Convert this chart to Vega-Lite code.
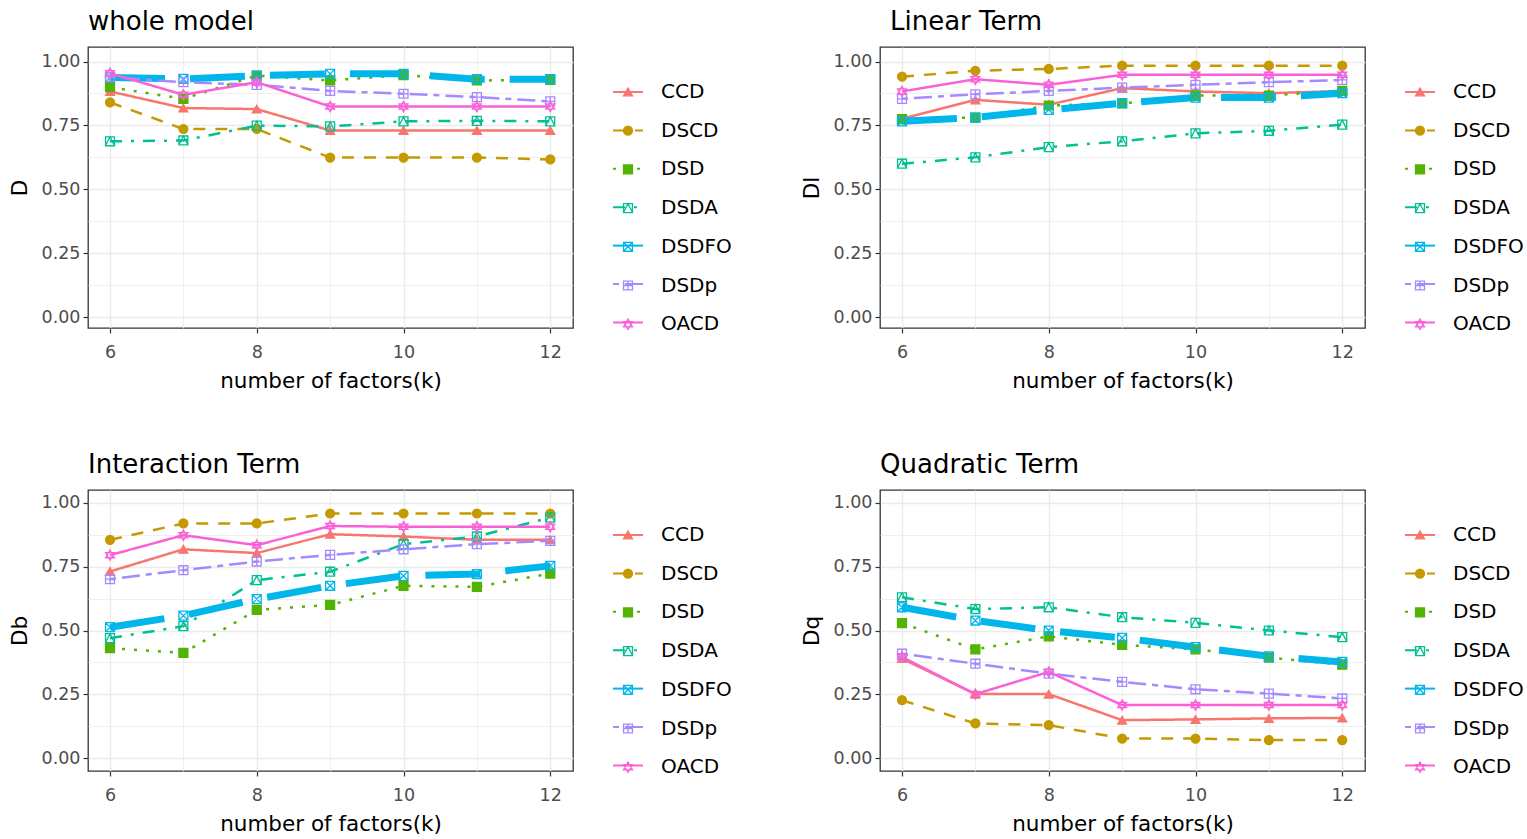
{
  "$schema": "https://vega.github.io/schema/vega-lite/v6.json",
  "background": "white",
  "padding": {"left": 8, "top": 8, "right": 0, "bottom": 0},
  "datasets": {
    "d": [
      {"p":"D","s":"CCD","k":6,"v":0.883},{"p":"D","s":"CCD","k":7,"v":0.818},{"p":"D","s":"CCD","k":8,"v":0.814},{"p":"D","s":"CCD","k":9,"v":0.730},{"p":"D","s":"CCD","k":10,"v":0.730},{"p":"D","s":"CCD","k":11,"v":0.730},{"p":"D","s":"CCD","k":12,"v":0.730},
      {"p":"D","s":"DSCD","k":6,"v":0.840},{"p":"D","s":"DSCD","k":7,"v":0.736},{"p":"D","s":"DSCD","k":8,"v":0.736},{"p":"D","s":"DSCD","k":9,"v":0.624},{"p":"D","s":"DSCD","k":10,"v":0.624},{"p":"D","s":"DSCD","k":11,"v":0.624},{"p":"D","s":"DSCD","k":12,"v":0.617},
      {"p":"D","s":"DSD","k":6,"v":0.900},{"p":"D","s":"DSD","k":7,"v":0.854},{"p":"D","s":"DSD","k":8,"v":0.945},{"p":"D","s":"DSD","k":9,"v":0.926},{"p":"D","s":"DSD","k":10,"v":0.947},{"p":"D","s":"DSD","k":11,"v":0.926},{"p":"D","s":"DSD","k":12,"v":0.928},
      {"p":"D","s":"DSDA","k":6,"v":0.688},{"p":"D","s":"DSDA","k":7,"v":0.691},{"p":"D","s":"DSDA","k":8,"v":0.749},{"p":"D","s":"DSDA","k":9,"v":0.746},{"p":"D","s":"DSDA","k":10,"v":0.766},{"p":"D","s":"DSDA","k":11,"v":0.768},{"p":"D","s":"DSDA","k":12,"v":0.766},
      {"p":"D","s":"DSDFO","k":6,"v":0.938},{"p":"D","s":"DSDFO","k":7,"v":0.932},{"p":"D","s":"DSDFO","k":8,"v":0.945},{"p":"D","s":"DSDFO","k":9,"v":0.952},{"p":"D","s":"DSDFO","k":10,"v":0.952},{"p":"D","s":"DSDFO","k":11,"v":0.931},{"p":"D","s":"DSDFO","k":12,"v":0.931},
      {"p":"D","s":"DSDp","k":6,"v":0.940},{"p":"D","s":"DSDp","k":7,"v":0.919},{"p":"D","s":"DSDp","k":8,"v":0.909},{"p":"D","s":"DSDp","k":9,"v":0.885},{"p":"D","s":"DSDp","k":10,"v":0.874},{"p":"D","s":"DSDp","k":11,"v":0.861},{"p":"D","s":"DSDp","k":12,"v":0.844},
      {"p":"D","s":"OACD","k":6,"v":0.954},{"p":"D","s":"OACD","k":7,"v":0.870},{"p":"D","s":"OACD","k":8,"v":0.919},{"p":"D","s":"OACD","k":9,"v":0.824},{"p":"D","s":"OACD","k":10,"v":0.824},{"p":"D","s":"OACD","k":11,"v":0.824},{"p":"D","s":"OACD","k":12,"v":0.824},

      {"p":"Dl","s":"CCD","k":6,"v":0.776},{"p":"Dl","s":"CCD","k":7,"v":0.850},{"p":"Dl","s":"CCD","k":8,"v":0.831},{"p":"Dl","s":"CCD","k":9,"v":0.896},{"p":"Dl","s":"CCD","k":10,"v":0.883},{"p":"Dl","s":"CCD","k":11,"v":0.876},{"p":"Dl","s":"CCD","k":12,"v":0.885},
      {"p":"Dl","s":"DSCD","k":6,"v":0.941},{"p":"Dl","s":"DSCD","k":7,"v":0.964},{"p":"Dl","s":"DSCD","k":8,"v":0.971},{"p":"Dl","s":"DSCD","k":9,"v":0.984},{"p":"Dl","s":"DSCD","k":10,"v":0.984},{"p":"Dl","s":"DSCD","k":11,"v":0.984},{"p":"Dl","s":"DSCD","k":12,"v":0.984},
      {"p":"Dl","s":"DSD","k":6,"v":0.775},{"p":"Dl","s":"DSD","k":7,"v":0.781},{"p":"Dl","s":"DSD","k":8,"v":0.828},{"p":"Dl","s":"DSD","k":9,"v":0.836},{"p":"Dl","s":"DSD","k":10,"v":0.867},{"p":"Dl","s":"DSD","k":11,"v":0.867},{"p":"Dl","s":"DSD","k":12,"v":0.885},
      {"p":"Dl","s":"DSDA","k":6,"v":0.600},{"p":"Dl","s":"DSDA","k":7,"v":0.625},{"p":"Dl","s":"DSDA","k":8,"v":0.665},{"p":"Dl","s":"DSDA","k":9,"v":0.688},{"p":"Dl","s":"DSDA","k":10,"v":0.719},{"p":"Dl","s":"DSDA","k":11,"v":0.729},{"p":"Dl","s":"DSDA","k":12,"v":0.753},
      {"p":"Dl","s":"DSDFO","k":6,"v":0.766},{"p":"Dl","s":"DSDFO","k":7,"v":0.781},{"p":"Dl","s":"DSDFO","k":8,"v":0.811},{"p":"Dl","s":"DSDFO","k":9,"v":0.837},{"p":"Dl","s":"DSDFO","k":10,"v":0.859},{"p":"Dl","s":"DSDFO","k":11,"v":0.859},{"p":"Dl","s":"DSDFO","k":12,"v":0.876},
      {"p":"Dl","s":"DSDp","k":6,"v":0.854},{"p":"Dl","s":"DSDp","k":7,"v":0.872},{"p":"Dl","s":"DSDp","k":8,"v":0.885},{"p":"Dl","s":"DSDp","k":9,"v":0.898},{"p":"Dl","s":"DSDp","k":10,"v":0.909},{"p":"Dl","s":"DSDp","k":11,"v":0.919},{"p":"Dl","s":"DSDp","k":12,"v":0.928},
      {"p":"Dl","s":"OACD","k":6,"v":0.883},{"p":"Dl","s":"OACD","k":7,"v":0.931},{"p":"Dl","s":"OACD","k":8,"v":0.909},{"p":"Dl","s":"OACD","k":9,"v":0.948},{"p":"Dl","s":"OACD","k":10,"v":0.948},{"p":"Dl","s":"OACD","k":11,"v":0.948},{"p":"Dl","s":"OACD","k":12,"v":0.948},

      {"p":"Db","s":"CCD","k":6,"v":0.731},{"p":"Db","s":"CCD","k":7,"v":0.818},{"p":"Db","s":"CCD","k":8,"v":0.803},{"p":"Db","s":"CCD","k":9,"v":0.877},{"p":"Db","s":"CCD","k":10,"v":0.868},{"p":"Db","s":"CCD","k":11,"v":0.855},{"p":"Db","s":"CCD","k":12,"v":0.855},
      {"p":"Db","s":"DSCD","k":6,"v":0.855},{"p":"Db","s":"DSCD","k":7,"v":0.919},{"p":"Db","s":"DSCD","k":8,"v":0.919},{"p":"Db","s":"DSCD","k":9,"v":0.958},{"p":"Db","s":"DSCD","k":10,"v":0.958},{"p":"Db","s":"DSCD","k":11,"v":0.958},{"p":"Db","s":"DSCD","k":12,"v":0.958},
      {"p":"Db","s":"DSD","k":6,"v":0.431},{"p":"Db","s":"DSD","k":7,"v":0.412},{"p":"Db","s":"DSD","k":8,"v":0.581},{"p":"Db","s":"DSD","k":9,"v":0.600},{"p":"Db","s":"DSD","k":10,"v":0.675},{"p":"Db","s":"DSD","k":11,"v":0.671},{"p":"Db","s":"DSD","k":12,"v":0.723},
      {"p":"Db","s":"DSDA","k":6,"v":0.470},{"p":"Db","s":"DSDA","k":7,"v":0.517},{"p":"Db","s":"DSDA","k":8,"v":0.697},{"p":"Db","s":"DSDA","k":9,"v":0.730},{"p":"Db","s":"DSDA","k":10,"v":0.838},{"p":"Db","s":"DSDA","k":11,"v":0.868},{"p":"Db","s":"DSDA","k":12,"v":0.942},
      {"p":"Db","s":"DSDFO","k":6,"v":0.513},{"p":"Db","s":"DSDFO","k":7,"v":0.558},{"p":"Db","s":"DSDFO","k":8,"v":0.623},{"p":"Db","s":"DSDFO","k":9,"v":0.675},{"p":"Db","s":"DSDFO","k":10,"v":0.714},{"p":"Db","s":"DSDFO","k":11,"v":0.721},{"p":"Db","s":"DSDFO","k":12,"v":0.753},
      {"p":"Db","s":"DSDp","k":6,"v":0.701},{"p":"Db","s":"DSDp","k":7,"v":0.736},{"p":"Db","s":"DSDp","k":8,"v":0.770},{"p":"Db","s":"DSDp","k":9,"v":0.796},{"p":"Db","s":"DSDp","k":10,"v":0.818},{"p":"Db","s":"DSDp","k":11,"v":0.838},{"p":"Db","s":"DSDp","k":12,"v":0.851},
      {"p":"Db","s":"OACD","k":6,"v":0.795},{"p":"Db","s":"OACD","k":7,"v":0.873},{"p":"Db","s":"OACD","k":8,"v":0.834},{"p":"Db","s":"OACD","k":9,"v":0.909},{"p":"Db","s":"OACD","k":10,"v":0.906},{"p":"Db","s":"OACD","k":11,"v":0.906},{"p":"Db","s":"OACD","k":12,"v":0.906},

      {"p":"Dq","s":"CCD","k":6,"v":0.390},{"p":"Dq","s":"CCD","k":7,"v":0.251},{"p":"Dq","s":"CCD","k":8,"v":0.251},{"p":"Dq","s":"CCD","k":9,"v":0.149},{"p":"Dq","s":"CCD","k":10,"v":0.152},{"p":"Dq","s":"CCD","k":11,"v":0.156},{"p":"Dq","s":"CCD","k":12,"v":0.158},
      {"p":"Dq","s":"DSCD","k":6,"v":0.227},{"p":"Dq","s":"DSCD","k":7,"v":0.136},{"p":"Dq","s":"DSCD","k":8,"v":0.130},{"p":"Dq","s":"DSCD","k":9,"v":0.077},{"p":"Dq","s":"DSCD","k":10,"v":0.077},{"p":"Dq","s":"DSCD","k":11,"v":0.071},{"p":"Dq","s":"DSCD","k":12,"v":0.071},
      {"p":"Dq","s":"DSD","k":6,"v":0.529},{"p":"Dq","s":"DSD","k":7,"v":0.426},{"p":"Dq","s":"DSD","k":8,"v":0.477},{"p":"Dq","s":"DSD","k":9,"v":0.444},{"p":"Dq","s":"DSD","k":10,"v":0.426},{"p":"Dq","s":"DSD","k":11,"v":0.394},{"p":"Dq","s":"DSD","k":12,"v":0.366},
      {"p":"Dq","s":"DSDA","k":6,"v":0.630},{"p":"Dq","s":"DSDA","k":7,"v":0.584},{"p":"Dq","s":"DSDA","k":8,"v":0.591},{"p":"Dq","s":"DSDA","k":9,"v":0.552},{"p":"Dq","s":"DSDA","k":10,"v":0.530},{"p":"Dq","s":"DSDA","k":11,"v":0.500},{"p":"Dq","s":"DSDA","k":12,"v":0.474},
      {"p":"Dq","s":"DSDFO","k":6,"v":0.591},{"p":"Dq","s":"DSDFO","k":7,"v":0.539},{"p":"Dq","s":"DSDFO","k":8,"v":0.500},{"p":"Dq","s":"DSDFO","k":9,"v":0.471},{"p":"Dq","s":"DSDFO","k":10,"v":0.435},{"p":"Dq","s":"DSDFO","k":11,"v":0.399},{"p":"Dq","s":"DSDFO","k":12,"v":0.377},
      {"p":"Dq","s":"DSDp","k":6,"v":0.409},{"p":"Dq","s":"DSDp","k":7,"v":0.370},{"p":"Dq","s":"DSDp","k":8,"v":0.331},{"p":"Dq","s":"DSDp","k":9,"v":0.299},{"p":"Dq","s":"DSDp","k":10,"v":0.270},{"p":"Dq","s":"DSDp","k":11,"v":0.253},{"p":"Dq","s":"DSDp","k":12,"v":0.234},
      {"p":"Dq","s":"OACD","k":6,"v":0.396},{"p":"Dq","s":"OACD","k":7,"v":0.251},{"p":"Dq","s":"OACD","k":8,"v":0.338},{"p":"Dq","s":"OACD","k":9,"v":0.208},{"p":"Dq","s":"OACD","k":10,"v":0.208},{"p":"Dq","s":"OACD","k":11,"v":0.208},{"p":"Dq","s":"OACD","k":12,"v":0.208}
    ]
  },
  "columns": 2,
  "bounds": "flush",
  "spacing": {"row": 162, "column": 307},
  "resolve": {"scale": {"stroke": "independent", "strokeDash": "independent"}, "legend": {"stroke": "independent", "fill": "independent", "shape": "independent", "strokeDash": "independent"}},
  "concat": [
    {
      "width": 485, "height": 281,
      "title": {"text": "whole model"},
      "data": {"name": "d"},
      "transform": [{"filter": "datum.p === 'D'"}],
      "encoding": {
        "x": {"field": "k", "type": "quantitative", "title": "number of factors(k)", "scale": {"domain": [5.7, 12.31], "nice": false, "zero": false},
              "axis": {"values": [6,7,8,9,10,11,12], "labelExpr": "datum.value % 2 === 0 ? datum.label : ''", "gridWidth": {"condition": {"test": "datum.value % 2 === 0", "value": 1.4}, "value": 0.8}, "tickOpacity": {"condition": {"test": "datum.value % 2 === 0", "value": 1}, "value": 0}}},
        "y": {"field": "v", "type": "quantitative", "title": "D", "scale": {"domain": [-0.043, 1.057], "nice": false, "zero": false},
              "axis": {"values": [0,0.125,0.25,0.375,0.5,0.625,0.75,0.875,1], "labelExpr": "datum.value % 0.25 === 0 ? format(datum.value, '.2f') : ''", "gridWidth": {"condition": {"test": "datum.value % 0.25 === 0", "value": 1.4}, "value": 0.8}, "tickOpacity": {"condition": {"test": "datum.value % 0.25 === 0", "value": 1}, "value": 0}}}
      },
      "resolve": {"scale": {"stroke": "independent", "strokeDash": "independent"}, "legend": {"stroke": "independent", "strokeDash": "independent", "fill": "independent", "shape": "independent"}},
      "layer": [
        {"mark": {"type": "line", "clip": true},
         "encoding": {
           "stroke": {"field": "s", "type": "nominal", "title": null, "scale": {"range": ["#F8766D","#C49A00","#53B400","#00C094","#00B6EB","#A58AFF","#FB61D7"]}, "legend": {"orient": "none", "legendX": 524, "legendY": 29, "symbolType": "stroke", "symbolSize": 900, "symbolStrokeWidth": 2, "rowPadding": 12.4, "labelColor": "transparent", "labelExpr": "''", "padding": 0}},
           "strokeDash": {"field": "s", "type": "nominal", "title": null, "scale": {"range": [[1,0],[12,10],[3,9],[12,9,3,9],[55,25],[6,6,18,6],[1,0]]}, "legend": {"orient": "none", "legendX": 524, "legendY": 29, "symbolType": "stroke", "symbolSize": 900, "symbolStrokeWidth": 2, "rowPadding": 12.4, "labelColor": "transparent", "labelExpr": "''", "padding": 0}},
           "strokeWidth": {"condition": {"test": "datum.s === 'DSDFO'", "value": 7}, "value": 2.5}
         }},
        {"mark": {"type": "point", "size": 80, "strokeWidth": 1.3, "opacity": 1},
         "encoding": {
           "stroke": {"field": "s", "type": "nominal", "title": null, "scale": {"domain": ["CCD","DSCD","DSD","DSDA","DSDFO","DSDp","OACD"], "range": ["#F8766D","#C49A00","#53B400","#00C094","#00B6EB","#A58AFF","#FB61D7"]}, "legend": {"orient": "none", "legendX": 530, "legendY": 35}},
           "fill": {"field": "s", "type": "nominal", "title": null, "scale": {"domain": ["CCD","DSCD","DSD","DSDA","DSDFO","DSDp","OACD"], "range": ["#F8766D","#C49A00","#53B400","transparent","transparent","transparent","transparent"]}, "legend": {"orient": "none", "legendX": 530, "legendY": 35}},
           "shape": {"field": "s", "type": "nominal", "title": null, "scale": {"domain": ["CCD","DSCD","DSD","DSDA","DSDFO","DSDp","OACD"], "range": ["triangle-up","circle","square","M-1,-1H1V1H-1Z M-1,1L0,-1L1,1","M-1,-1H1V1H-1Z M-1,-1L1,1 M-1,1L1,-1","M-1,-1H1V1H-1Z M0,-1V1 M-1,0H1","M0,-1.15L1,0.58H-1Z M0,1.15L1,-0.58H-1Z"]}, "legend": {"orient": "none", "legendX": 530, "legendY": 35}}
         }}
      ]
    },
    {
      "width": 485, "height": 281,
      "title": {"text": "Linear Term", "dx": 10},
      "data": {"name": "d"},
      "transform": [{"filter": "datum.p === 'Dl'"}],
      "encoding": {
        "x": {"field": "k", "type": "quantitative", "title": "number of factors(k)", "scale": {"domain": [5.7, 12.31], "nice": false, "zero": false},
              "axis": {"values": [6,7,8,9,10,11,12], "labelExpr": "datum.value % 2 === 0 ? datum.label : ''", "gridWidth": {"condition": {"test": "datum.value % 2 === 0", "value": 1.4}, "value": 0.8}, "tickOpacity": {"condition": {"test": "datum.value % 2 === 0", "value": 1}, "value": 0}}},
        "y": {"field": "v", "type": "quantitative", "title": "Dl", "scale": {"domain": [-0.043, 1.057], "nice": false, "zero": false},
              "axis": {"values": [0,0.125,0.25,0.375,0.5,0.625,0.75,0.875,1], "labelExpr": "datum.value % 0.25 === 0 ? format(datum.value, '.2f') : ''", "gridWidth": {"condition": {"test": "datum.value % 0.25 === 0", "value": 1.4}, "value": 0.8}, "tickOpacity": {"condition": {"test": "datum.value % 0.25 === 0", "value": 1}, "value": 0}}}
      },
      "resolve": {"scale": {"stroke": "independent", "strokeDash": "independent"}, "legend": {"stroke": "independent", "strokeDash": "independent", "fill": "independent", "shape": "independent"}},
      "layer": [
        {"mark": {"type": "line", "clip": true},
         "encoding": {
           "stroke": {"field": "s", "type": "nominal", "title": null, "scale": {"range": ["#F8766D","#C49A00","#53B400","#00C094","#00B6EB","#A58AFF","#FB61D7"]}, "legend": {"orient": "none", "legendX": 524, "legendY": 29, "symbolType": "stroke", "symbolSize": 900, "symbolStrokeWidth": 2, "rowPadding": 12.4, "labelColor": "transparent", "labelExpr": "''", "padding": 0}},
           "strokeDash": {"field": "s", "type": "nominal", "title": null, "scale": {"range": [[1,0],[12,10],[3,9],[12,9,3,9],[55,25],[6,6,18,6],[1,0]]}, "legend": {"orient": "none", "legendX": 524, "legendY": 29, "symbolType": "stroke", "symbolSize": 900, "symbolStrokeWidth": 2, "rowPadding": 12.4, "labelColor": "transparent", "labelExpr": "''", "padding": 0}},
           "strokeWidth": {"condition": {"test": "datum.s === 'DSDFO'", "value": 7}, "value": 2.5}
         }},
        {"mark": {"type": "point", "size": 80, "strokeWidth": 1.3, "opacity": 1},
         "encoding": {
           "stroke": {"field": "s", "type": "nominal", "title": null, "scale": {"domain": ["CCD","DSCD","DSD","DSDA","DSDFO","DSDp","OACD"], "range": ["#F8766D","#C49A00","#53B400","#00C094","#00B6EB","#A58AFF","#FB61D7"]}, "legend": {"orient": "none", "legendX": 530, "legendY": 35}},
           "fill": {"field": "s", "type": "nominal", "title": null, "scale": {"domain": ["CCD","DSCD","DSD","DSDA","DSDFO","DSDp","OACD"], "range": ["#F8766D","#C49A00","#53B400","transparent","transparent","transparent","transparent"]}, "legend": {"orient": "none", "legendX": 530, "legendY": 35}},
           "shape": {"field": "s", "type": "nominal", "title": null, "scale": {"domain": ["CCD","DSCD","DSD","DSDA","DSDFO","DSDp","OACD"], "range": ["triangle-up","circle","square","M-1,-1H1V1H-1Z M-1,1L0,-1L1,1","M-1,-1H1V1H-1Z M-1,-1L1,1 M-1,1L1,-1","M-1,-1H1V1H-1Z M0,-1V1 M-1,0H1","M0,-1.15L1,0.58H-1Z M0,1.15L1,-0.58H-1Z"]}, "legend": {"orient": "none", "legendX": 530, "legendY": 35}}
         }}
      ]
    },
    {
      "width": 485, "height": 281,
      "title": {"text": "Interaction Term"},
      "data": {"name": "d"},
      "transform": [{"filter": "datum.p === 'Db'"}],
      "encoding": {
        "x": {"field": "k", "type": "quantitative", "title": "number of factors(k)", "scale": {"domain": [5.7, 12.31], "nice": false, "zero": false},
              "axis": {"values": [6,7,8,9,10,11,12], "labelExpr": "datum.value % 2 === 0 ? datum.label : ''", "gridWidth": {"condition": {"test": "datum.value % 2 === 0", "value": 1.4}, "value": 0.8}, "tickOpacity": {"condition": {"test": "datum.value % 2 === 0", "value": 1}, "value": 0}}},
        "y": {"field": "v", "type": "quantitative", "title": "Db", "scale": {"domain": [-0.05, 1.05], "nice": false, "zero": false},
              "axis": {"values": [0,0.125,0.25,0.375,0.5,0.625,0.75,0.875,1], "labelExpr": "datum.value % 0.25 === 0 ? format(datum.value, '.2f') : ''", "gridWidth": {"condition": {"test": "datum.value % 0.25 === 0", "value": 1.4}, "value": 0.8}, "tickOpacity": {"condition": {"test": "datum.value % 0.25 === 0", "value": 1}, "value": 0}}}
      },
      "resolve": {"scale": {"stroke": "independent", "strokeDash": "independent"}, "legend": {"stroke": "independent", "strokeDash": "independent", "fill": "independent", "shape": "independent"}},
      "layer": [
        {"mark": {"type": "line", "clip": true},
         "encoding": {
           "stroke": {"field": "s", "type": "nominal", "title": null, "scale": {"range": ["#F8766D","#C49A00","#53B400","#00C094","#00B6EB","#A58AFF","#FB61D7"]}, "legend": {"orient": "none", "legendX": 524, "legendY": 29, "symbolType": "stroke", "symbolSize": 900, "symbolStrokeWidth": 2, "rowPadding": 12.4, "labelColor": "transparent", "labelExpr": "''", "padding": 0}},
           "strokeDash": {"field": "s", "type": "nominal", "title": null, "scale": {"range": [[1,0],[12,10],[3,9],[12,9,3,9],[55,25],[6,6,18,6],[1,0]]}, "legend": {"orient": "none", "legendX": 524, "legendY": 29, "symbolType": "stroke", "symbolSize": 900, "symbolStrokeWidth": 2, "rowPadding": 12.4, "labelColor": "transparent", "labelExpr": "''", "padding": 0}},
           "strokeWidth": {"condition": {"test": "datum.s === 'DSDFO'", "value": 7}, "value": 2.5}
         }},
        {"mark": {"type": "point", "size": 80, "strokeWidth": 1.3, "opacity": 1},
         "encoding": {
           "stroke": {"field": "s", "type": "nominal", "title": null, "scale": {"domain": ["CCD","DSCD","DSD","DSDA","DSDFO","DSDp","OACD"], "range": ["#F8766D","#C49A00","#53B400","#00C094","#00B6EB","#A58AFF","#FB61D7"]}, "legend": {"orient": "none", "legendX": 530, "legendY": 35}},
           "fill": {"field": "s", "type": "nominal", "title": null, "scale": {"domain": ["CCD","DSCD","DSD","DSDA","DSDFO","DSDp","OACD"], "range": ["#F8766D","#C49A00","#53B400","transparent","transparent","transparent","transparent"]}, "legend": {"orient": "none", "legendX": 530, "legendY": 35}},
           "shape": {"field": "s", "type": "nominal", "title": null, "scale": {"domain": ["CCD","DSCD","DSD","DSDA","DSDFO","DSDp","OACD"], "range": ["triangle-up","circle","square","M-1,-1H1V1H-1Z M-1,1L0,-1L1,1","M-1,-1H1V1H-1Z M-1,-1L1,1 M-1,1L1,-1","M-1,-1H1V1H-1Z M0,-1V1 M-1,0H1","M0,-1.15L1,0.58H-1Z M0,1.15L1,-0.58H-1Z"]}, "legend": {"orient": "none", "legendX": 530, "legendY": 35}}
         }}
      ]
    },
    {
      "width": 485, "height": 281,
      "title": {"text": "Quadratic Term"},
      "data": {"name": "d"},
      "transform": [{"filter": "datum.p === 'Dq'"}],
      "encoding": {
        "x": {"field": "k", "type": "quantitative", "title": "number of factors(k)", "scale": {"domain": [5.7, 12.31], "nice": false, "zero": false},
              "axis": {"values": [6,7,8,9,10,11,12], "labelExpr": "datum.value % 2 === 0 ? datum.label : ''", "gridWidth": {"condition": {"test": "datum.value % 2 === 0", "value": 1.4}, "value": 0.8}, "tickOpacity": {"condition": {"test": "datum.value % 2 === 0", "value": 1}, "value": 0}}},
        "y": {"field": "v", "type": "quantitative", "title": "Dq", "scale": {"domain": [-0.05, 1.05], "nice": false, "zero": false},
              "axis": {"values": [0,0.125,0.25,0.375,0.5,0.625,0.75,0.875,1], "labelExpr": "datum.value % 0.25 === 0 ? format(datum.value, '.2f') : ''", "gridWidth": {"condition": {"test": "datum.value % 0.25 === 0", "value": 1.4}, "value": 0.8}, "tickOpacity": {"condition": {"test": "datum.value % 0.25 === 0", "value": 1}, "value": 0}}}
      },
      "resolve": {"scale": {"stroke": "independent", "strokeDash": "independent"}, "legend": {"stroke": "independent", "strokeDash": "independent", "fill": "independent", "shape": "independent"}},
      "layer": [
        {"mark": {"type": "line", "clip": true},
         "encoding": {
           "stroke": {"field": "s", "type": "nominal", "title": null, "scale": {"range": ["#F8766D","#C49A00","#53B400","#00C094","#00B6EB","#A58AFF","#FB61D7"]}, "legend": {"orient": "none", "legendX": 524, "legendY": 29, "symbolType": "stroke", "symbolSize": 900, "symbolStrokeWidth": 2, "rowPadding": 12.4, "labelColor": "transparent", "labelExpr": "''", "padding": 0}},
           "strokeDash": {"field": "s", "type": "nominal", "title": null, "scale": {"range": [[1,0],[12,10],[3,9],[12,9,3,9],[55,25],[6,6,18,6],[1,0]]}, "legend": {"orient": "none", "legendX": 524, "legendY": 29, "symbolType": "stroke", "symbolSize": 900, "symbolStrokeWidth": 2, "rowPadding": 12.4, "labelColor": "transparent", "labelExpr": "''", "padding": 0}},
           "strokeWidth": {"condition": {"test": "datum.s === 'DSDFO'", "value": 7}, "value": 2.5}
         }},
        {"mark": {"type": "point", "size": 80, "strokeWidth": 1.3, "opacity": 1},
         "encoding": {
           "stroke": {"field": "s", "type": "nominal", "title": null, "scale": {"domain": ["CCD","DSCD","DSD","DSDA","DSDFO","DSDp","OACD"], "range": ["#F8766D","#C49A00","#53B400","#00C094","#00B6EB","#A58AFF","#FB61D7"]}, "legend": {"orient": "none", "legendX": 530, "legendY": 35}},
           "fill": {"field": "s", "type": "nominal", "title": null, "scale": {"domain": ["CCD","DSCD","DSD","DSDA","DSDFO","DSDp","OACD"], "range": ["#F8766D","#C49A00","#53B400","transparent","transparent","transparent","transparent"]}, "legend": {"orient": "none", "legendX": 530, "legendY": 35}},
           "shape": {"field": "s", "type": "nominal", "title": null, "scale": {"domain": ["CCD","DSCD","DSD","DSDA","DSDFO","DSDp","OACD"], "range": ["triangle-up","circle","square","M-1,-1H1V1H-1Z M-1,1L0,-1L1,1","M-1,-1H1V1H-1Z M-1,-1L1,1 M-1,1L1,-1","M-1,-1H1V1H-1Z M0,-1V1 M-1,0H1","M0,-1.15L1,0.58H-1Z M0,1.15L1,-0.58H-1Z"]}, "legend": {"orient": "none", "legendX": 530, "legendY": 35}}
         }}
      ]
    }
  ],
  "config": {
    "font": "DejaVu Sans",
    "view": {"stroke": "#333333", "strokeWidth": 1.3},
    "axis": {"gridColor": "#EBEBEB", "domain": false, "tickColor": "#333333", "tickSize": 5, "tickWidth": 1.2, "labelColor": "#4D4D4D", "labelFontSize": 17.5, "labelFont": "DejaVu Sans", "titleFontSize": 21.5, "titleFont": "DejaVu Sans", "titleFontWeight": "normal", "titleColor": "#000000", "labelPadding": 3},
    "axisX": {"labelPadding": 10, "titlePadding": 10},
    "axisY": {"titlePadding": 10},
    "legend": {"padding": 0, "labelFontSize": 20, "labelFont": "DejaVu Sans", "labelColor": "#000000", "labelOffset": 23, "rowPadding": 18.7, "symbolSize": 80, "symbolStrokeWidth": 1.3},
    "title": {"anchor": "start", "frame": "group", "fontSize": 26, "fontWeight": "normal", "font": "DejaVu Sans", "color": "#000000", "offset": 12}
  }
}
